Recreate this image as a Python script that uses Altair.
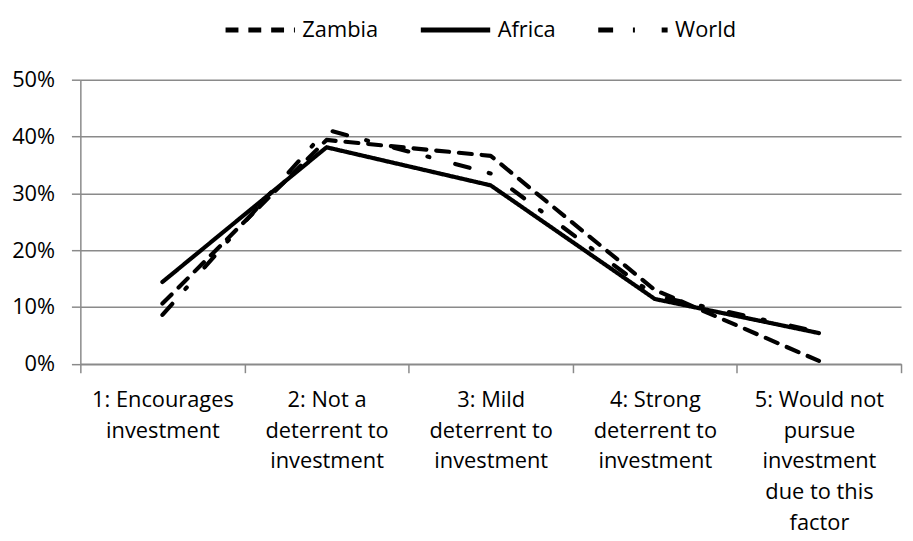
import altair as alt
import pandas as pd

categories = [
    "1: Encourages|investment",
    "2: Not a|deterrent to|investment",
    "3: Mild|deterrent to|investment",
    "4: Strong|deterrent to|investment",
    "5: Would not|pursue|investment|due to this|factor",
]
series = ["Zambia", "Africa", "World"]
zambia = [0.106, 0.394, 0.366, 0.130, 0.005]
africa = [0.144, 0.381, 0.314, 0.114, 0.054]
world = [0.086, 0.412, 0.335, 0.120, 0.056]
y_ticks = [0, 0.1, 0.2, 0.3, 0.4, 0.5]

rows = []
for name, vals in zip(series, [zambia, africa, world]):
    for i, (c, v) in enumerate(zip(categories, vals)):
        rows.append({"series": name, "category": c, "idx": i, "value": v})
df = pd.DataFrame(rows)

FONT = "Open Sans"
GRID = "#8a8a8a"

chart = alt.Chart(df).mark_line(
    strokeWidth=4.2, strokeCap="round", strokeJoin="round", color="black"
).encode(
    x=alt.X(
        "category:N",
        sort=categories,
        scale=alt.Scale(paddingInner=0, paddingOuter=0),
        axis=alt.Axis(
            title=None, labelAngle=0, labelExpr="split(datum.label, '|')",
            tickBand="extent", tickSize=9, labelPadding=17, labelLineHeight=31,
            labelBaseline="top", labelAlign="center", grid=False,
            labelOverlap=False, labelFlush=False, labelLimit=300,
        ),
    ),
    y=alt.Y(
        "value:Q",
        scale=alt.Scale(domain=[0, 0.5], nice=False),
        axis=alt.Axis(title=None, values=y_ticks, format=".0%", tickSize=9,
                      labelPadding=17, grid=True),
    ),
    order=alt.Order("idx:Q"),
    strokeDash=alt.StrokeDash(
        "series:N",
        sort=series,
        scale=alt.Scale(domain=series, range=[[13, 10], [1, 0], [15, 20, 2, 27]]),
        legend=alt.Legend(
            title=None, orient="none", legendX=144, legendY=-88,
            direction="horizontal", symbolType="stroke", symbolSize=4900,
            symbolStrokeWidth=5, symbolStrokeColor="black", labelOffset=5,
            columnPadding=32, labelFontSize=22, labelFont=FONT, labelColor="black",
        ),
    ),
).properties(
    width=828, height=286.6,
    autosize=alt.AutoSizeParams(type="none"),
    padding={"left": 73, "top": 70, "right": 4, "bottom": 170},
).configure(font=FONT).configure_view(stroke=None).configure_axis(
    labelFont=FONT, labelFontSize=22, labelColor="black",
    domainColor=GRID, tickColor=GRID, gridColor=GRID,
    domainWidth=1.5, tickWidth=1.5, gridWidth=1.5,
)

chart.save("out.html", embed_options={"renderer": "svg", "actions": False})
